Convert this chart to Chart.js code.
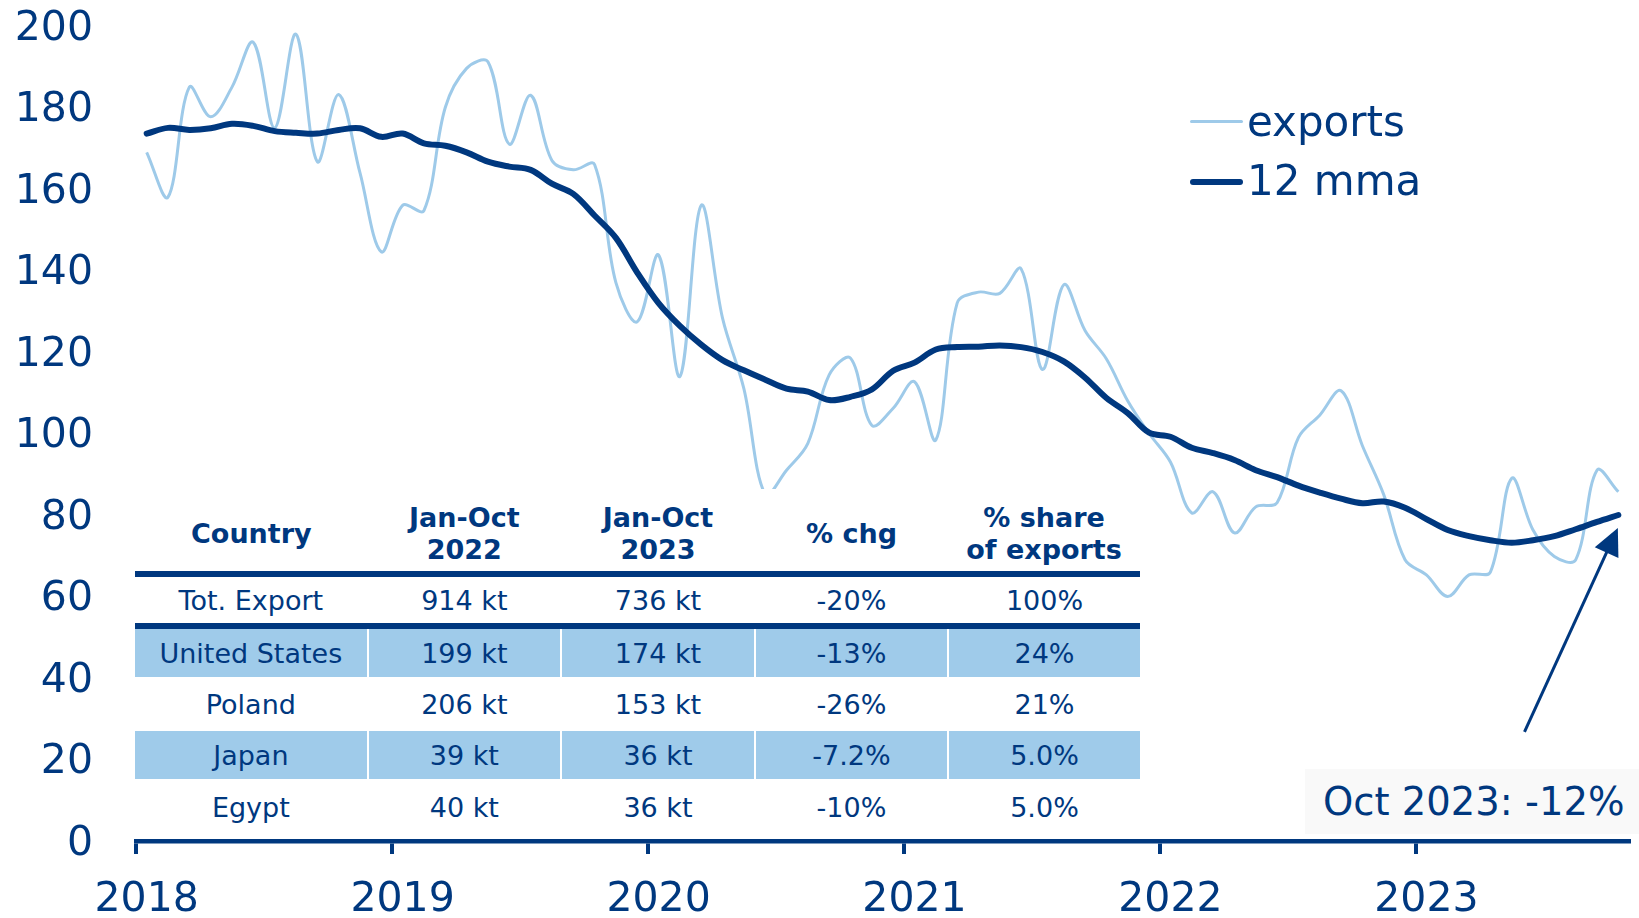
<!DOCTYPE html>
<html>
<head>
<meta charset="utf-8">
<script src="https://cdn.jsdelivr.net/npm/chart.js@4.4.1/dist/chart.umd.min.js"></script>
<style>
  html, body { margin:0; padding:0; background:#fff; }
  #wrap { position:relative; width:1639px; height:918px; overflow:hidden; font-family:'DejaVu Sans', Verdana, sans-serif; color:#00387f; }
  canvas { position:absolute; left:0; top:0; }
  .abs { position:absolute; }
  .cell { position:absolute; display:flex; align-items:center; justify-content:center; text-align:center; font-size:27px; white-space:pre-line; }
  .head { font-weight:bold; line-height:32px; }
</style>
</head>
<body>
<div id="wrap">
  <canvas id="c" width="1639" height="918"></canvas>
  <div id="table" class="abs" style="left:135px; top:489px; width:1005px; height:347px; background:#fff;"></div>
  <div id="legend"></div>
  <div id="note" class="abs" style="left:1305px; top:769px; width:334px; height:65px; background:#f9f9f9; font-size:38.5px; line-height:65px; padding-left:18px; box-sizing:border-box; white-space:nowrap;"></div>
</div>
<script>
// ---------- data ----------
const months = [
 '2018-01','2018-02','2018-03','2018-04','2018-05','2018-06','2018-07','2018-08','2018-09','2018-10','2018-11','2018-12',
 '2019-01','2019-02','2019-03','2019-04','2019-05','2019-06','2019-07','2019-08','2019-09','2019-10','2019-11','2019-12',
 '2020-01','2020-02','2020-03','2020-04','2020-05','2020-06','2020-07','2020-08','2020-09','2020-10','2020-11','2020-12',
 '2021-01','2021-02','2021-03','2021-04','2021-05','2021-06','2021-07','2021-08','2021-09','2021-10','2021-11','2021-12',
 '2022-01','2022-02','2022-03','2022-04','2022-05','2022-06','2022-07','2022-08','2022-09','2022-10','2022-11','2022-12',
 '2023-01','2023-02','2023-03','2023-04','2023-05','2023-06','2023-07','2023-08','2023-09','2023-10'
];
const yearLabels = ['2018','2019','2020','2021','2022','2023'];
const yTicks = [0,20,40,60,80,100,120,140,160,180,200];

const exportsKt = [
 169, 158, 185, 177.7, 185, 196, 175, 198, 166.7, 183.2, 164, 144.6,
 156, 154.7, 180, 189.6, 191.2, 171, 183, 167, 164.7, 166, 137, 127.4,
 143.8, 114, 156, 128.3, 111, 85, 91, 97.6, 114.4, 118.5, 102, 106.2,
 112.7, 98.4, 132, 134.7, 134.4, 140.4, 115.7, 136.5, 125.2, 118.3, 108, 100,
 93, 80.5, 85.7, 75.6, 82, 83, 99, 104.5, 110.5, 97, 85, 69,
 65.3, 60, 65.3, 66, 89, 76.3, 69.8, 69, 91, 85.7
];
const mma12 = [
 173.6, 175, 174.5, 174.9, 176, 175.5, 174.2, 173.8, 173.6, 174.5, 174.9, 172.8,
 173.6, 171.2, 170.6, 169, 166.7, 165.5, 164.7, 161.3, 158.8, 153.5, 148, 139.5,
 132, 126.4, 121.8, 118, 115.5, 113.2, 111, 110.3, 108.2, 109, 110.8, 115.4,
 117.4, 120.6, 121.2, 121.3, 121.6, 121.2, 120, 117.7, 113.7, 108.7, 105, 100.2,
 99.2, 96.5, 95.2, 93.5, 91, 89.3, 87.2, 85.5, 84, 82.9, 83.3, 81.8,
 79, 76.3, 74.8, 73.8, 73.2, 73.8, 74.8, 76.5, 78.3, 80
];

// table
const tableHeaders = ['Country', 'Jan-Oct\n2022', 'Jan-Oct\n2023', '% chg', '% share\nof exports'];
const countries = ['Tot. Export', 'United States', 'Poland', 'Japan', 'Egypt'];
const janOct2022 = ['914 kt', '199 kt', '206 kt', '39 kt', '40 kt'];
const janOct2023 = ['736 kt', '174 kt', '153 kt', '36 kt', '36 kt'];
const pctChg = ['-20%', '-13%', '-26%', '-7.2%', '-10%'];
const pctShare = ['100%', '24%', '21%', '5.0%', '5.0%'];
const noteText = 'Oct 2023: -12%';

// ---------- style ----------
const NAVY = '#00387f';
const LIGHT = '#9ecae9';
const FILL = '#9fcbea';

// ---------- table (HTML overlay) ----------
(function buildTable(){
  const t = document.getElementById('table');
  const X0 = 135, Y0 = 489;
  const edges = [135, 367.7, 561, 755, 948, 1140];
  const rowsTop = [577, 629, 677, 731, 779];
  const rowsBot = [623, 677, 731, 779, 836];
  const cols = [countries, janOct2022, janOct2023, pctChg, pctShare];
  for (let c = 0; c < 5; c++) {
    const d = document.createElement('div');
    d.className = 'cell head';
    d.style.left = (edges[c] - X0) + 'px';
    d.style.width = (edges[c+1] - edges[c]) + 'px';
    d.style.top = (496 - Y0) + 'px';
    d.style.height = '76px';
    d.textContent = tableHeaders[c];
    t.appendChild(d);
  }
  [571, 623].forEach(y => {
    const l = document.createElement('div');
    l.className = 'abs';
    l.style.cssText = `left:0;top:${y - Y0}px;width:1005px;height:6px;background:${NAVY};`;
    t.appendChild(l);
  });
  for (let r = 0; r < countries.length; r++) {
    const top = rowsTop[r];
    const h = rowsBot[r] - rowsTop[r];
    const shaded = (r === 1 || r === 3);
    for (let c = 0; c < 5; c++) {
      const d = document.createElement('div');
      d.className = 'cell';
      const left = edges[c] + (c > 0 ? 1 : 0);
      const right = edges[c+1] - (c < 4 ? 1 : 0);
      d.style.left = (left - X0) + 'px';
      d.style.width = (right - left) + 'px';
      d.style.top = (top - Y0) + 'px';
      d.style.height = h + 'px';
      if (shaded) d.style.background = FILL;
      d.textContent = cols[c][r];
      t.appendChild(d);
    }
  }
})();

// ---------- legend (HTML overlay) ----------
(function buildLegend(){
  const lg = document.getElementById('legend');
  const items = [
    { text: 'exports', color: LIGHT, lw: 3, y: 121, textTop: 98 },
    { text: '12 mma', color: NAVY, lw: 6, y: 181.5, textTop: 157 }
  ];
  items.forEach(it => {
    const s = document.createElement('div');
    s.className = 'abs';
    s.style.cssText = `left:1190px;top:${it.y - it.lw/2}px;width:53px;height:${it.lw}px;background:${it.color};border-radius:${it.lw/2}px;`;
    lg.appendChild(s);
    const tx = document.createElement('div');
    tx.className = 'abs';
    tx.style.cssText = `left:1247px;top:${it.textTop}px;font-size:42px;line-height:48px;white-space:nowrap;`;
    tx.textContent = it.text;
    lg.appendChild(tx);
  });
})();
document.getElementById('note').textContent = noteText;

// ---------- arrow annotation plugin ----------
const arrowPlugin = {
  id: 'arrowNote',
  afterDatasetsDraw(chart) {
    const { ctx, scales: { x, y } } = chart;
    const last = mma12.length - 1;
    const tipX = x.getPixelForValue(last) - 0.5;
    const tipY = y.getPixelForValue(mma12[last]) + 13;
    const tailX = x.getPixelForValue(64.6);
    const tailY = y.getPixelForValue(26.8);
    const dx = tipX - tailX, dy = tipY - tailY;
    const len = Math.hypot(dx, dy);
    const ux = dx / len, uy = dy / len;
    const headL = 27, headW = 13;
    const bx = tipX - ux * headL, by = tipY - uy * headL;
    ctx.save();
    ctx.strokeStyle = NAVY;
    ctx.fillStyle = NAVY;
    ctx.lineWidth = 3;
    ctx.beginPath();
    ctx.moveTo(tailX, tailY);
    ctx.lineTo(bx + ux * 2, by + uy * 2);
    ctx.stroke();
    ctx.beginPath();
    ctx.moveTo(tipX, tipY);
    ctx.lineTo(bx - uy * headW, by + ux * headW);
    ctx.lineTo(bx + uy * headW, by - ux * headW);
    ctx.closePath();
    ctx.fill();
    ctx.restore();
  }
};

// ---------- chart ----------
Chart.defaults.font.family = "'DejaVu Sans', Verdana, sans-serif";
Chart.defaults.color = NAVY;

new Chart(document.getElementById('c'), {
  type: 'line',
  data: {
    labels: months,
    datasets: [
      { label: 'exports', data: exportsKt, borderColor: LIGHT, borderWidth: 3, pointRadius: 0, tension: 0.35, order: 2, fill: false },
      { label: '12 mma', data: mma12, borderColor: NAVY, borderWidth: 6, pointRadius: 0, tension: 0.35, order: 1, fill: false, borderCapStyle: 'round' }
    ]
  },
  options: {
    responsive: false,
    animation: false,
    devicePixelRatio: 1,
    layout: { padding: { top: 26, right: 10, left: 0, bottom: 0 } },
    plugins: { legend: { display: false }, tooltip: { enabled: false } },
    scales: {
      x: {
        type: 'category',
        offset: true,
        grid: {
          display: true, offset: true, drawOnChartArea: false, drawTicks: true,
          tickLength: 13, lineWidth: 4,
          color: (c) => (typeof c.index === 'number' && c.index < months.length && months[c.index].endsWith('-01')) ? NAVY : 'rgba(0,0,0,0)'
        },
        border: { display: true, color: NAVY, width: 4.5 },
        ticks: {
          autoSkip: false, maxRotation: 0, minRotation: 0, padding: 22,
          font: { size: 41 }, color: NAVY,
          callback: function(v, i) {
            const yr = months[i].slice(0, 4);
            return months[i].endsWith('-01') && yearLabels.includes(yr) ? yr : '';
          }
        },
        afterFit: (s) => { s.height = 77; s.paddingLeft = 0; s.paddingRight = 0; }
      },
      y: {
        min: 0, max: 200,
        afterBuildTicks: (s) => { s.ticks = yTicks.map(v => ({ value: v })); },
        ticks: { font: { size: 41 }, color: NAVY, padding: 43, labelOffset: 3 },
        grid: { display: false, drawTicks: false },
        border: { display: false },
        afterFit: (s) => { s.width = 136; s.paddingTop = 0; s.paddingBottom = 0; }
      }
    }
  },
  plugins: [arrowPlugin]
});
</script>
</body>
</html>
